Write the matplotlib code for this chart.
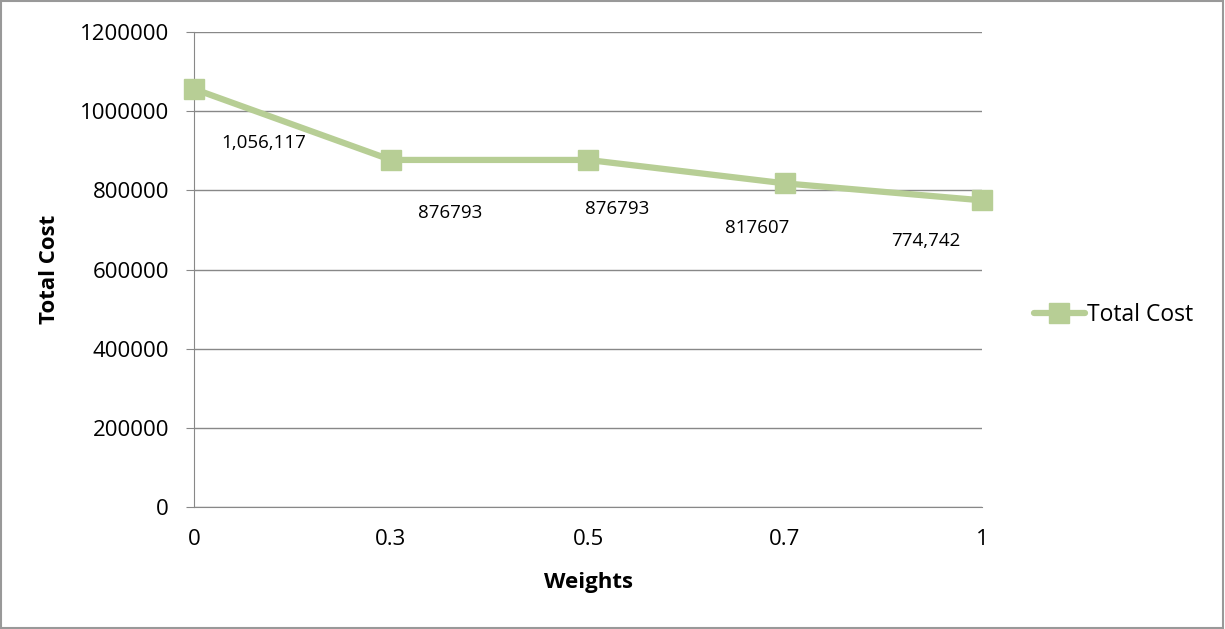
import matplotlib.pyplot as plt
from matplotlib.patches import Rectangle

plt.rcParams['font.family'] = ['Open Sans', 'DejaVu Sans']

weights = ['0', '0.3', '0.5', '0.7', '1']
total_cost = [1056117, 876793, 876793, 817607, 774742]
point_labels = ['1,056,117', '876793', '876793', '817607', '774,742']
# label offsets in pixels (dx, dy) from each point
label_offsets = [(70, -54), (59, -53), (29, -49), (-28, -45), (-56, -41)]

green = '#B7CE95'

fig = plt.figure(figsize=(12.25, 6.29), dpi=100)
ax = fig.add_axes([194/1225, 1 - 507/629, (982 - 194)/1225, (507 - 32)/629])

xs = list(range(len(weights)))
ax.plot(xs, total_cost, color=green, linewidth=4.5, marker='s', markersize=14,
        markerfacecolor=green, markeredgecolor=green, label='Total Cost', zorder=3,
        solid_capstyle='round', clip_on=False)

for x, y, t, off in zip(xs, total_cost, point_labels, label_offsets):
    ax.annotate(t, (x, y), xytext=(off[0]*0.72, off[1]*0.72), textcoords='offset points',
                ha='center', va='center', fontsize=13.5, color='black')

ax.set_xlim(0, len(weights) - 1)
ax.set_ylim(0, 1200000)
ax.set_yticks(range(0, 1200001, 200000))
ax.set_yticklabels([str(v) for v in range(0, 1200001, 200000)], fontsize=16)
ax.set_xticks(xs)
ax.set_xticklabels(weights, fontsize=16)
ax.grid(axis='y', color='#888888', linewidth=1)
ax.set_axisbelow(True)
for s in ['top', 'right']:
    ax.spines[s].set_visible(False)
ax.spines['left'].set_color('#888888')
ax.spines['bottom'].set_color('#888888')
ax.tick_params(axis='y', length=6, color='#888888', pad=12)
ax.tick_params(axis='x', length=0, pad=16)

ax.set_xlabel('Weights', fontsize=16, fontweight='bold', labelpad=16)
ax.set_ylabel('Total Cost', fontsize=16, fontweight='bold', labelpad=14)

fig.legend(loc='center left', bbox_to_anchor=(1025/1225, 1 - 315/629), frameon=False,
           fontsize=16.5, handlelength=2.2, handletextpad=0.1, borderaxespad=0)

fig.patches.append(Rectangle((0.001, 0.002), 0.997, 0.996, transform=fig.transFigure,
                             fill=False, edgecolor='#999999', linewidth=1.5))

fig.savefig('out.png', dpi=100)
